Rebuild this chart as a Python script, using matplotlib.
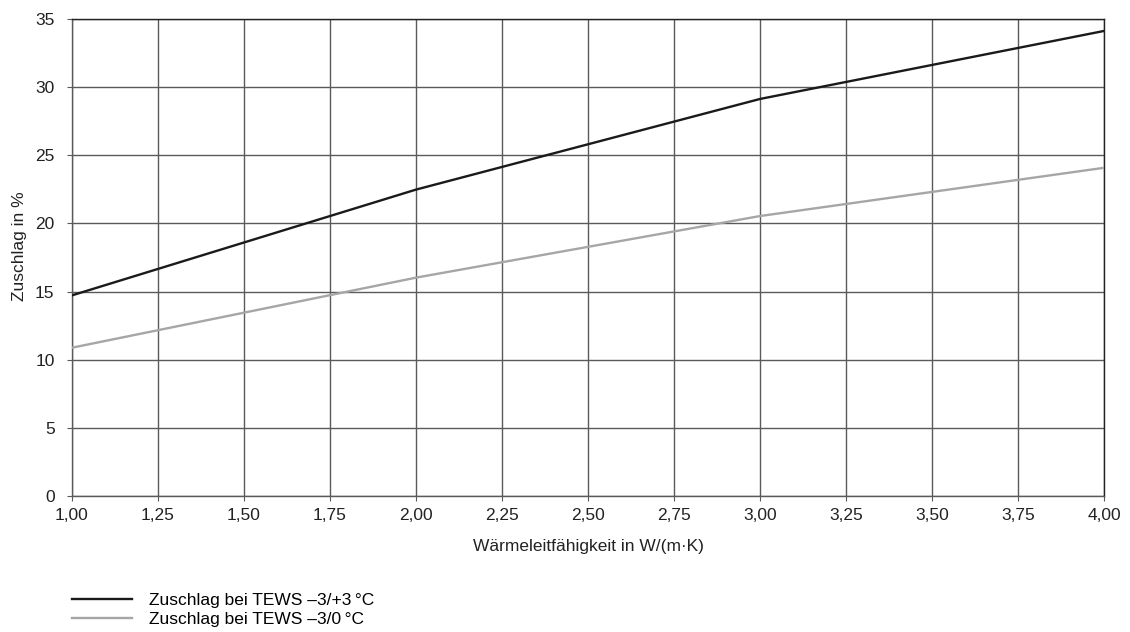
import matplotlib
matplotlib.use("Agg")
import matplotlib.pyplot as plt
from matplotlib.lines import Line2D

plt.rcParams['font.family'] = ['Liberation Sans', 'DejaVu Sans']

x_vals = [1.0, 2.0, 3.0, 4.0]
y_dark = [14.72, 22.48, 29.13, 34.12]
y_gray = [10.88, 16.02, 20.54, 24.08]
x_ticks = [1.0, 1.25, 1.5, 1.75, 2.0, 2.25, 2.5, 2.75, 3.0, 3.25, 3.5, 3.75, 4.0]
y_ticks = [0, 5, 10, 15, 20, 25, 30, 35]
labels = ["Zuschlag bei TEWS \u20133/+3\u202f\u00b0C", "Zuschlag bei TEWS \u20133/0\u202f\u00b0C"]

FS = 12.5
fig = plt.figure(figsize=(11.3, 6.32), dpi=100)
ax = fig.add_axes([0.0637, 0.2152, 0.9133, 0.7548])

ax.plot(x_vals, y_dark, color='#1a1a1a', lw=1.7, zorder=3)
ax.plot(x_vals, y_gray, color='#a6a6a6', lw=1.7, zorder=3)

ax.set_xlim(1.0, 4.0)
ax.set_ylim(0, 35)
ax.set_xticks(x_ticks)
ax.set_yticks(y_ticks)
ax.set_xticklabels([f"{v:.2f}".replace('.', ',') for v in x_ticks])
ax.set_yticklabels([str(v) for v in y_ticks])
ax.grid(True, color='#5a5a5a', lw=1.0, zorder=1)
for s in ax.spines.values():
    s.set_color('#222222')
    s.set_linewidth(1.0)
ax.spines['bottom'].set_color('#5a5a5a')
ax.spines['left'].set_color('#5a5a5a')
ax.tick_params(axis='both', direction='out', length=3.5, color='#5a5a5a',
               labelsize=FS, labelcolor='#222222')
ax.tick_params(axis='x', pad=5)
ax.tick_params(axis='y', pad=9)

ax.set_xlabel("W\u00e4rmeleitf\u00e4higkeit in W/(m\u00b7K)", fontsize=FS, labelpad=12,
              color='#222222')
ax.set_ylabel("Zuschlag in %", fontsize=FS, color='#222222')
ax.yaxis.set_label_coords(-0.044, 0.524)

handles = [Line2D([0], [0], color='#1a1a1a', lw=1.7),
           Line2D([0], [0], color='#a6a6a6', lw=1.7)]
fig.legend(handles, labels, loc='upper left', bbox_to_anchor=(0.0637, 0.062),
           frameon=False, fontsize=FS, handlelength=3.45, handletextpad=1.0,
           labelspacing=0.25, borderpad=0, borderaxespad=0)

fig.savefig("out.png", dpi=100)
